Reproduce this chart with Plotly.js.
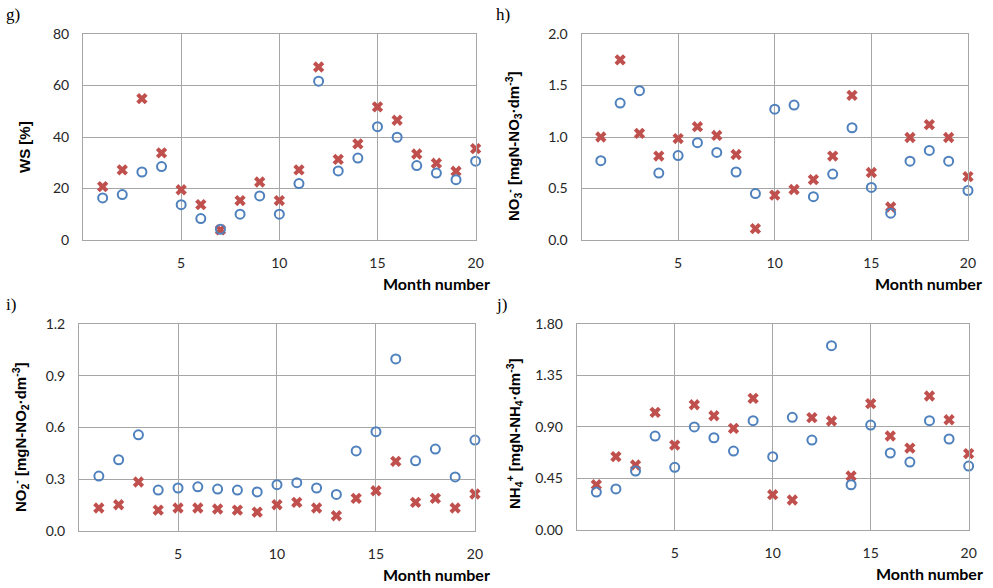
<!DOCTYPE html>
<html>
<head>
<meta charset="utf-8">
<script src="https://cdn.plot.ly/plotly-3.0.1.min.js"></script>
<style>html,body{margin:0;padding:0;background:#fff;}#chart{width:993px;height:588px;}</style>
</head>
<body>
<div id="chart"></div>
<script>
const months = [1,2,3,4,5,6,7,8,9,10,11,12,13,14,15,16,17,18,19,20];

const wsCircle = [16.3,17.6,26.4,28.5,13.7,8.3,4.1,10.0,17.1,10.0,21.9,61.7,26.8,31.8,44.0,39.9,28.9,26.0,23.4,30.6];
const wsCross  = [20.7,27.2,54.9,33.8,19.5,13.7,3.9,15.3,22.5,15.3,27.2,67.2,31.3,37.3,51.7,46.5,33.4,29.8,26.7,35.5];

const no3Circle = [0.77,1.33,1.45,0.65,0.82,0.945,0.85,0.66,0.45,1.27,1.31,0.42,0.64,1.09,0.51,0.26,0.765,0.87,0.765,0.48];
const no3Cross  = [1.00,1.75,1.035,0.815,0.985,1.10,1.015,0.83,0.11,0.435,0.49,0.585,0.815,1.405,0.655,0.32,0.995,1.12,0.995,0.615];

const no2Circle = [0.317,0.412,0.557,0.236,0.248,0.255,0.242,0.236,0.225,0.267,0.279,0.248,0.211,0.463,0.575,0.997,0.406,0.474,0.312,0.526];
const no2Cross  = [0.132,0.151,0.283,0.120,0.132,0.132,0.126,0.120,0.108,0.151,0.165,0.132,0.087,0.188,0.232,0.403,0.165,0.188,0.132,0.213];

const nh4Circle = [0.331,0.358,0.515,0.820,0.547,0.899,0.805,0.689,0.954,0.640,0.983,0.785,1.608,0.395,0.916,0.672,0.593,0.954,0.794,0.558];
const nh4Cross  = [0.395,0.640,0.567,1.026,0.741,1.093,0.997,0.887,1.149,0.308,0.262,0.980,0.951,0.471,1.102,0.820,0.715,1.169,0.962,0.666];

const xTickVals = [5,10,15,20];
const panelLabels = ['g)','h)','i)','j)'];
const yTitles = [
  'WS [%]',
  'NO<sub>3</sub><sup>-</sup> [mgN-NO<sub>3</sub>·dm<sup>-3</sup>]',
  'NO<sub>2</sub><sup>-</sup> [mgN-NO<sub>2</sub>·dm<sup>-3</sup>]',
  'NH<sub>4</sub><sup>+</sup> [mgN-NH<sub>4</sub>·dm<sup>-3</sup>]'
];

const blue = '#4f81bd';
const red = '#c0504d';
const gridC = '#a6a6a6';
const tickFont = {family: 'Lato, "Open Sans", sans-serif', size: 14, color: '#262626'};

function circ(x, y, xa, ya) {
  return {x: x, y: y, xaxis: xa, yaxis: ya, type: 'scatter', mode: 'markers', showlegend: false, cliponaxis: false,
    marker: {symbol: 'circle-open', size: 9, color: blue, line: {width: 2, color: blue}}};
}
function cross(x, y, xa, ya) {
  return {x: x, y: y, xaxis: xa, yaxis: ya, type: 'scatter', mode: 'markers', showlegend: false, cliponaxis: false,
    marker: {symbol: 'x', size: 10, color: red, line: {width: 0}}};
}

const data = [
  cross(months, wsCross, 'x', 'y'), circ(months, wsCircle, 'x', 'y'),
  cross(months, no3Cross, 'x2', 'y2'), circ(months, no3Circle, 'x2', 'y2'),
  cross(months, no2Cross, 'x3', 'y3'), circ(months, no2Circle, 'x3', 'y3'),
  cross(months, nh4Cross, 'x4', 'y4'), circ(months, nh4Circle, 'x4', 'y4')
];

function xax(domain, anchor) {
  return {domain: domain, anchor: anchor, range: [0, 20], tickvals: xTickVals, ticktext: xTickVals.map(String),
    showgrid: true, gridcolor: gridC, gridwidth: 1, showline: true, linecolor: gridC, linewidth: 1, mirror: true,
    zeroline: false, ticks: 'outside', ticklen: 10, tickcolor: 'rgba(0,0,0,0)', tickfont: tickFont};
}
function yax(domain, anchor, max, dtick, fmt) {
  return {domain: domain, anchor: anchor, range: [0, max], dtick: dtick, tick0: 0, tickformat: fmt,
    showgrid: true, gridcolor: gridC, gridwidth: 1, showline: true, linecolor: gridC, linewidth: 1, mirror: true,
    zeroline: false, ticks: 'outside', ticklen: 10, tickcolor: 'rgba(0,0,0,0)', tickfont: tickFont};
}

const annotations = [];
const labelPos = [[4, 14], [494, 14], [4, 304], [494, 304]];
labelPos.forEach((p, i) => {
  annotations.push({xref: 'paper', yref: 'paper', x: p[0] / 993, y: 1 - p[1] / 588, xanchor: 'left', yanchor: 'middle',
    text: panelLabels[i], showarrow: false, font: {family: '"Liberation Serif", "DejaVu Serif", serif', size: 17, color: '#000'}});
});
const mnPos = [[492, 283], [984, 283], [492, 574], [985, 573]];
mnPos.forEach(p => {
  annotations.push({xref: 'paper', yref: 'paper', x: p[0] / 993, y: 1 - p[1] / 588, xanchor: 'right', yanchor: 'middle',
    text: '<b>Month number</b>', showarrow: false, font: {family: 'Lato, "Open Sans", sans-serif', size: 16, color: '#000'}});
});
const ytPos = [[24, 147], [514, 146], [20, 437], [514, 434]];
ytPos.forEach((p, i) => {
  annotations.push({xref: 'paper', yref: 'paper', x: p[0] / 993, y: 1 - p[1] / 588, xanchor: 'center', yanchor: 'middle',
    textangle: -90, text: '<b>' + yTitles[i] + '</b>', showarrow: false,
    font: {family: '"Liberation Sans", Arial, sans-serif', size: 15, color: '#000'}});
});

const layout = {
  width: 993, height: 588, margin: {l: 0, r: 0, t: 0, b: 0},
  paper_bgcolor: '#fff', plot_bgcolor: '#fff', showlegend: false,
  xaxis: xax([0.0836, 0.479], 'y'),
  yaxis: yax([0.592, 0.942], 'x', 80, 20, 'd'),
  xaxis2: xax([0.5856, 0.9748], 'y2'),
  yaxis2: yax([0.592, 0.942], 'x2', 2.0, 0.5, '.1f'),
  xaxis3: xax([0.0796, 0.4783], 'y3'),
  yaxis3: yax([0.0974, 0.449], 'x3', 1.2, 0.3, '.1f'),
  xaxis4: xax([0.5808, 0.9755], 'y4'),
  yaxis4: yax([0.0986, 0.4495], 'x4', 1.8, 0.45, '.2f'),
  annotations: annotations
};

Plotly.newPlot('chart', data, layout, {displayModeBar: false, staticPlot: true});
</script>
</body>
</html>
